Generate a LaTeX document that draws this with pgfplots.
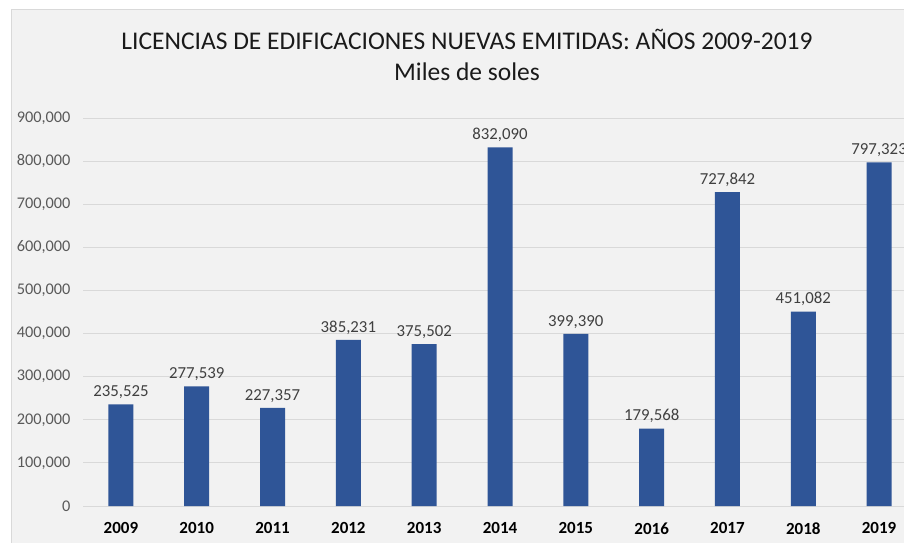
\documentclass[border=0pt]{standalone}
\usepackage{pgfplots}
\pgfplotsset{compat=1.18}
\usepackage{fontspec}
\setmainfont{Carlito}
\definecolor{barblue}{HTML}{2F5597}
\definecolor{bggray}{HTML}{F2F2F2}
\definecolor{gridgray}{HTML}{D9D9D9}
\definecolor{ticktext}{HTML}{595959}
\definecolor{lbltext}{HTML}{404040}
\definecolor{titletext}{HTML}{1A1A1A}
\begin{document}
\begin{tikzpicture}[x=1pt,y=1pt]
\useasboundingbox (0,0) rectangle (904,542);
\clip (0,0) rectangle (904,542);
\fill[white] (0,0) rectangle (904,542);
\filldraw[fill=bggray, draw=gridgray, line width=1pt] (11,-5) rectangle (920,532);
\node[text=titletext, font=\fontsize{25.5}{30}\selectfont] at (467,503) {LICENCIAS DE EDIFICACIONES NUEVAS EMITIDAS: AÑOS 2009-2019};
\node[text=titletext, font=\fontsize{25.5}{30}\selectfont] at (467,470) {Miles de soles};
\begin{axis}[
  at={(83pt,36pt)}, anchor=south west,
  scale only axis, width=834pt, height=388pt,
  xmin=-0.5, xmax=10.5, ymin=0, ymax=900000,
  ybar, bar width=25pt,
  axis line style={draw=none},
  ymajorgrids, grid style={gridgray, line width=1pt},
  major tick length=0pt,
  ytick={0,100000,...,900000},
  scaled y ticks=false,
  /pgf/number format/fixed,
  /pgf/number format/1000 sep={,},
  /pgf/number format/assume math mode=true,
  yticklabel style={font=\fontsize{16.3}{19}\selectfont, text=ticktext, xshift=-9pt},
  xtick={0,...,10},
  xticklabels={2009,2010,2011,2012,2013,2014,2015,2016,2017,2018,2019},
  xticklabel style={font=\bfseries\fontsize{17}{20}\selectfont, text=black, yshift=-13pt},
  clip=false,
  nodes near coords,
  point meta=explicit symbolic,
  nodes near coords style={font=\fontsize{16.8}{20}\selectfont, text=lbltext, anchor=south, yshift=2pt},
]
\addplot[fill=barblue, draw=none] table[x=x, y=y, meta=lbl] {
x y lbl
0 235525 235,525
1 277539 277,539
2 227357 227,357
3 385231 385,231
4 375502 375,502
5 832090 832,090
6 399390 399,390
7 179568 179,568
8 727842 727,842
9 451082 451,082
10 797323 797,323
};
\end{axis}
\end{tikzpicture}
\end{document}
